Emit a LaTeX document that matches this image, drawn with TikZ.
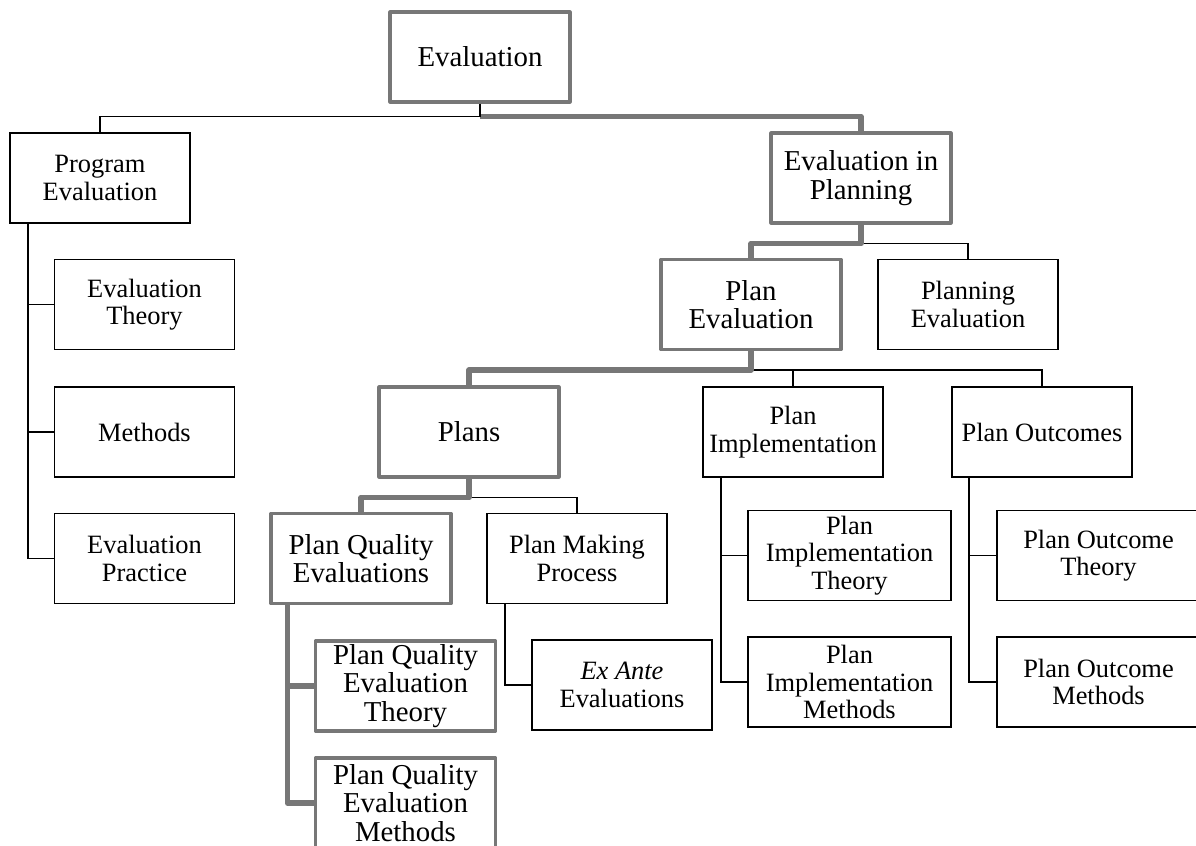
\documentclass[tikz,border=0pt]{standalone}
\usepackage{fontspec}
\setmainfont{Liberation Serif}
\usepackage{xcolor}
\usetikzlibrary{calc}
\definecolor{keygray}{HTML}{777777}
\tikzset{
	plainbox/.style={
			draw=black, line width=1.3pt, fill=white, align=center,
			minimum width=4.5cm, minimum height=2.25cm, inner sep=1pt,
			font=\fontsize{18.8}{19.6}\selectfont
		},
	widebox/.style={plainbox, minimum width=5.075cm},
	keybox/.style={
			draw=keygray, line width=2.2pt, line join=round, fill=white, align=center,
			minimum width=4.5cm, minimum height=2.25cm, inner sep=1pt,
			font=\fontsize{20.5}{20.2}\selectfont
		},
	plainlink/.style={draw=black, line width=1.2pt},
	keylink/.style={draw=keygray, line width=4pt, line join=round}
}

\begin{document}
\begin{tikzpicture}[x=0.025cm, y=-0.025cm]
		\useasboundingbox (0,0) rectangle (1196,846);

		% Top levels
		\node[keybox] (eval) at (480,57) {Evaluation};
		\node[plainbox] (prog) at (100,178) {Program\\Evaluation};
		\node[keybox] (evalplan) at (861,178) {Evaluation in\\Planning};

		% Program evaluation branch
		\node[plainbox] (etheory) at (144.5,304.5) {Evaluation\\Theory};
		\node[plainbox] (emethods) at (144.5,432) {Methods};
		\node[plainbox] (epractice) at (144.5,558.5) {Evaluation\\Practice};

		% Evaluation in planning branch
		\node[keybox] (planeval) at (751,304.5) {Plan\\Evaluation};
		\node[plainbox] (planningeval) at (968,304.5) {Planning\\Evaluation};
		\node[keybox] (plans) at (469,432) {Plans};
		\node[plainbox] (planimpl) at (793,432) {Plan\\Implementation};
		\node[plainbox] (planout) at (1042,432) {Plan Outcomes};

		% Plans branch
		\node[keybox] (pqe) at (361,558.5) {Plan Quality\\Evaluations};
		\node[plainbox] (pmp) at (577,558.5) {Plan Making\\Process};
		\node[keybox] (pqetheory) at (405.5,686) {Plan Quality\\Evaluation\\Theory};
		\node[keybox] (pqemethods) at (405.5,803) {Plan Quality\\Evaluation\\Methods};
		\node[plainbox] (exante) at (622,685) {{\itshape Ex Ante}\\Evaluations};

		% Implementation and outcome branches
		\node[widebox] (pitheory) at (849.5,555.5) {Plan\\Implementation\\Theory};
		\node[widebox] (pimethods) at (849.5,682) {Plan\\Implementation\\Methods};
		\node[widebox] (potheory) at (1098.5,555.5) {Plan Outcome\\Theory};
		\node[widebox] (pomethods) at (1098.5,682) {Plan Outcome\\Methods};

		% Connectors from the top
		\draw[keylink] ($(eval.south)+(0,13)$) -| (evalplan.north);
		\draw[plainlink] (eval.south) -- ++(0,13) -| (prog.north);

		\draw[plainlink] ([shift={(19,0)}]prog.south west) |- (etheory.west);
		\draw[plainlink] ([shift={(19,0)}]prog.south west) |- (emethods.west);
		\draw[plainlink] ([shift={(19,0)}]prog.south west) |- (epractice.west);

		\draw[plainlink] ($(evalplan.south)+(0,19)$) -| (planningeval.north);
		\draw[keylink] (evalplan.south) -- ++(0,19) -| (planeval.north);

		\draw[plainlink] ($(planeval.south)+(0,19)$) -| (planimpl.north);
		\draw[plainlink] ($(planeval.south)+(0,19)$) -| (planout.north);
		\draw[keylink] (planeval.south) -- ++(0,19) -| (plans.north);

		\draw[plainlink] ($(plans.south)+(0,19)$) -| (pmp.north);
		\draw[keylink] (plans.south) -- ++(0,19) -| (pqe.north);

		% Side spines
		\draw[keylink] ([shift={(18,0)}]pqe.south west) |- (pqetheory.west);
		\draw[keylink] ([shift={(18,0)}]pqe.south west) |- (pqemethods.west);
		\draw[plainlink] ([shift={(19,0)}]pmp.south west) |- (exante.west);
		\draw[plainlink] ([shift={(19,0)}]planimpl.south west) |- (pitheory.west);
		\draw[plainlink] ([shift={(19,0)}]planimpl.south west) |- (pimethods.west);
		\draw[plainlink] ([shift={(18,0)}]planout.south west) |- (potheory.west);
		\draw[plainlink] ([shift={(18,0)}]planout.south west) |- (pomethods.west);
	\end{tikzpicture}
\end{document}
